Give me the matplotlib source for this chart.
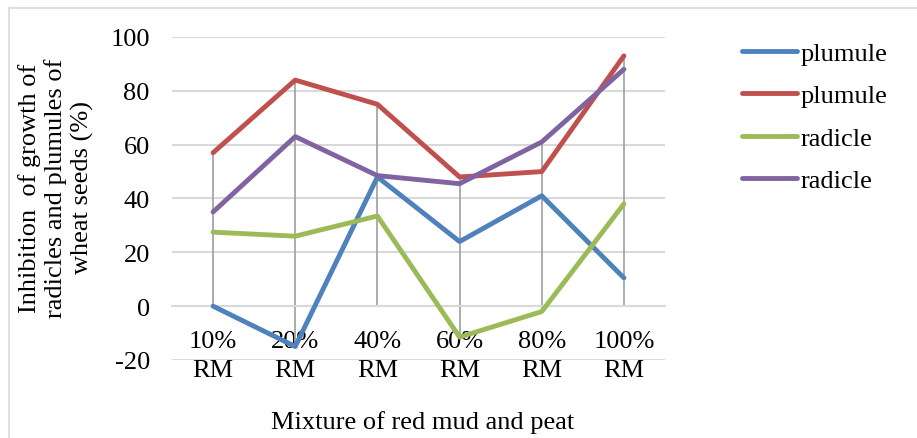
import matplotlib
matplotlib.use('Agg')
import matplotlib.pyplot as plt
from matplotlib.patches import Rectangle

# --- data ---
categories = ['10%\nRM', '20%\nRM', '40%\nRM', '60%\nRM', '80%\nRM', '100%\nRM']
plumule_1 = [0, -15, 48, 24, 41, 10.5]
plumule_2 = [57, 84, 75, 48, 50, 93]
radicle_1 = [27.5, 26, 33.5, -11.5, -2, 38]
radicle_2 = [35, 63, 48.5, 45.5, 61, 88]

series = [
    ('plumule', plumule_1, '#4F81BD'),
    ('plumule', plumule_2, '#C0504D'),
    ('radicle', radicle_1, '#9BBB59'),
    ('radicle', radicle_2, '#8064A2'),
]

plt.rcParams['font.family'] = ['Liberation Serif', 'DejaVu Serif']
plt.rcParams['axes.unicode_minus'] = False
fs = 19

fig = plt.figure(figsize=(9.17, 4.39), dpi=100)
ax = fig.add_axes([172 / 917, 1 - 361 / 439, (665 - 172) / 917, (361 - 38) / 439])

x = list(range(len(categories)))

# gridlines
ax.set_ylim(-20, 100)
ax.set_xlim(-0.5, len(categories) - 0.5)
ax.set_yticks(range(-20, 101, 20))
ax.yaxis.grid(True, color='#D9D9D9', linewidth=1.5)
ax.set_axisbelow(True)

# drop lines (grey verticals from the highest point down to the axis / lowest point)
for i in x:
    vals = [s[1][i] for s in series]
    ax.vlines(i, min(0, min(vals)), max(vals), color='#A6A6A6', linewidth=1.3, zorder=1)

for name, vals, col in series:
    ax.plot(x, vals, color=col, linewidth=3.5, label=name, solid_capstyle='round', zorder=3)

for sp in ['top', 'right', 'left']:
    ax.spines[sp].set_visible(False)
ax.spines['bottom'].set_position(('data', 0))
ax.spines['bottom'].set_color('#D9D9D9')
ax.spines['bottom'].set_linewidth(1.5)

ax.set_xticks(x)
ax.set_xticklabels(categories, fontsize=fs, linespacing=1.4)
ax.tick_params(axis='x', length=0, pad=17)
ax.tick_params(axis='y', length=0, pad=16, labelsize=fs)

fig.text(423 / 917, 1 - 423 / 439, 'Mixture of red mud and peat', fontsize=fs,
         ha='center', va='center')
fig.text(56 / 917, 1 - 188 / 439,
         'Inhibition  of growth of\nradicles and plumules of\nwheat seeds (%)',
         fontsize=fs, rotation=90, ha='center', va='center', linespacing=1.2)

leg = fig.legend(loc='center left', bbox_to_anchor=(742 / 917, 1 - 118 / 439),
                 frameon=False, fontsize=fs, handlelength=2.1, handletextpad=0.12,
                 labelspacing=0.72, borderpad=0, borderaxespad=0)

# light outer chart border
fig.patches.append(Rectangle((9 / 917, -0.05), 1.2, 1 - 9 / 439 + 0.05, transform=fig.transFigure,
                             fill=False, edgecolor='#D9D9D9', linewidth=1.2))

plt.savefig('out.png', dpi=100)
